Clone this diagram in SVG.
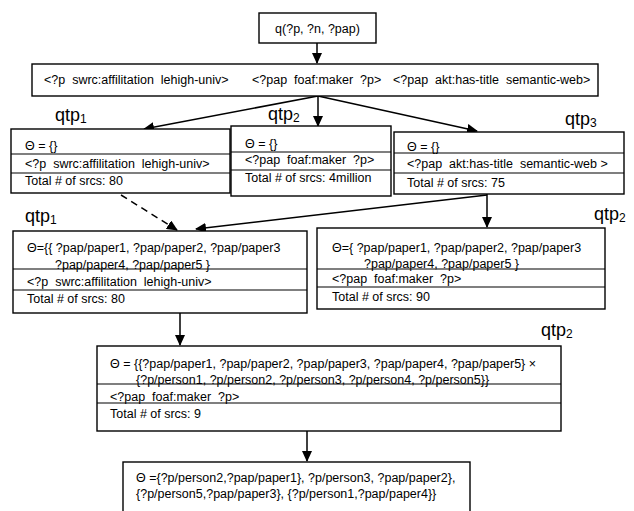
<svg xmlns="http://www.w3.org/2000/svg" width="634" height="511" viewBox="0 0 634 511">
<defs>
<marker id="ah" markerUnits="userSpaceOnUse" markerWidth="11" markerHeight="10" refX="10" refY="5" orient="auto">
<path d="M0,0 L11,5 L0,10 z" fill="#000"/>
</marker>
<style>
.box{fill:#fff;stroke:#000;stroke-width:1.4}
.row{stroke:#000;stroke-width:1.1}
.t{font-family:"Liberation Sans",Arial,sans-serif;font-size:12.5px;fill:#000}
.lbl{font-family:"Liberation Sans",Arial,sans-serif;font-size:18px;fill:#000}
.sub{font-size:12px}
.c{fill:none;stroke:#000;stroke-width:1.5;marker-end:url(#ah)}
.d{stroke-dasharray:7,5}
</style>
</defs>
<rect width="634" height="511" fill="#fff"/>

<g id="connectors">
<line class="c" x1="317" y1="43" x2="317" y2="63"/>
<line class="c" x1="318" y1="96" x2="144" y2="129"/>
<line class="c" x1="318" y1="96" x2="318" y2="126"/>
<line class="c" x1="318" y1="96" x2="477" y2="131"/>
<line class="c d" x1="121" y1="195" x2="177" y2="230"/>
<line class="c" x1="487" y1="195" x2="196" y2="229"/>
<line class="c" x1="487" y1="194" x2="487" y2="227"/>
<line class="c" x1="180" y1="313" x2="180" y2="345"/>
<line class="c" x1="307" y1="431" x2="307" y2="461"/>
</g>

<g id="query">
<rect class="box" x="259" y="13" width="117" height="30"/>
<text class="t" x="317.5" y="33" text-anchor="middle">q(?p, ?n, ?pap)</text>
</g>

<g id="patterns">
<rect class="box" x="32" y="64" width="566" height="32"/>
<text class="t" x="44" y="84" xml:space="preserve">&lt;?p  swrc:affilitation  lehigh-univ&gt;</text>
<text class="t" x="252" y="84" xml:space="preserve">&lt;?pap  foaf:maker  ?p&gt;</text>
<text class="t" x="393" y="84" xml:space="preserve">&lt;?pap  akt:has-title  semantic-web&gt;</text>
</g>

<g id="labels">
<text class="lbl" x="55" y="121">qtp<tspan class="sub" dy="2">1</tspan></text>
<text class="lbl" x="268" y="120">qtp<tspan class="sub" dy="2">2</tspan></text>
<text class="lbl" x="565" y="125">qtp<tspan class="sub" dy="2">3</tspan></text>
<text class="lbl" x="25" y="222">qtp<tspan class="sub" dy="2">1</tspan></text>
<text class="lbl" x="594" y="220">qtp<tspan class="sub" dy="2">2</tspan></text>
<text class="lbl" x="541" y="336">qtp<tspan class="sub" dy="2">2</tspan></text>
</g>

<g id="qtp1-init">
<rect class="box" x="11" y="129" width="219" height="64"/>
<line class="row" x1="11" y1="154" x2="230" y2="154"/>
<line class="row" x1="11" y1="173" x2="230" y2="173"/>
<text class="t" x="25" y="149.5">Θ = {}</text>
<text class="t" x="25" y="167.5" xml:space="preserve">&lt;?p  swrc:affilitation  lehigh-univ&gt;</text>
<text class="t" x="25" y="184.5">Total # of srcs: 80</text>
</g>

<g id="qtp2-init">
<rect class="box" x="231" y="126" width="160" height="70"/>
<line class="row" x1="231" y1="152" x2="391" y2="152"/>
<line class="row" x1="231" y1="170" x2="391" y2="170"/>
<text class="t" x="245" y="147.5">Θ = {}</text>
<text class="t" x="245" y="164" xml:space="preserve">&lt;?pap  foaf:maker  ?p&gt;</text>
<text class="t" x="245" y="181.5">Total # of srcs: 4million</text>
</g>

<g id="qtp3-init">
<rect class="box" x="394" y="132" width="230" height="62"/>
<line class="row" x1="394" y1="153" x2="624" y2="153"/>
<line class="row" x1="394" y1="173" x2="624" y2="173"/>
<text class="t" x="407" y="150.5">Θ = {}</text>
<text class="t" x="407" y="167.5" xml:space="preserve">&lt;?pap  akt:has-title  semantic-web &gt;</text>
<text class="t" x="407" y="186.5">Total # of srcs: 75</text>
</g>

<g id="qtp1-bound">
<rect class="box" x="13" y="231" width="294" height="82"/>
<text class="t" x="27" y="251.5">Θ={{ ?pap/paper1, ?pap/paper2, ?pap/paper3</text>
<text class="t" x="55" y="268.5">?pap/paper4, ?pap/paper5 }</text>
<line class="row" x1="13" y1="269" x2="307" y2="269"/>
<line class="row" x1="13" y1="290" x2="307" y2="290"/>
<text class="t" x="27" y="285.5" xml:space="preserve">&lt;?p  swrc:affilitation  lehigh-univ&gt;</text>
<text class="t" x="27" y="302.5">Total # of srcs: 80</text>
</g>

<g id="qtp2-bound">
<rect class="box" x="317" y="228" width="288" height="81"/>
<text class="t" x="332" y="251.5">Θ={ ?pap/paper1, ?pap/paper2, ?pap/paper3</text>
<text class="t" x="364" y="268">?pap/paper4, ?pap/paper5 }</text>
<line class="row" x1="317" y1="269" x2="605" y2="269"/>
<line class="row" x1="317" y1="287" x2="605" y2="287"/>
<text class="t" x="332" y="282.5" xml:space="preserve">&lt;?pap  foaf:maker  ?p&gt;</text>
<text class="t" x="332" y="300.5">Total # of srcs: 90</text>
</g>

<g id="qtp2-join">
<rect class="box" x="97" y="346" width="464" height="85"/>
<text class="t" x="110" y="367.5">Θ = {{?pap/paper1, ?pap/paper2, ?pap/paper3, ?pap/paper4, ?pap/paper5} ×</text>
<text class="t" x="136" y="383.5">{?p/person1, ?p/person2, ?p/person3, ?p/person4, ?p/person5}}</text>
<line class="row" x1="97" y1="384" x2="561" y2="384"/>
<line class="row" x1="97" y1="403" x2="561" y2="403"/>
<text class="t" x="110" y="400.5" xml:space="preserve">&lt;?pap  foaf:maker  ?p&gt;</text>
<text class="t" x="110" y="417.5">Total # of srcs: 9</text>
</g>

<g id="result">
<rect class="box" x="123" y="462" width="347" height="60"/>
<text class="t" x="136" y="481.5">Θ ={?p/person2,?pap/paper1}, ?p/person3, ?pap/paper2},</text>
<text class="t" x="136" y="497.5">{?p/person5,?pap/paper3}, {?p/person1,?pap/paper4}}</text>
</g>
</svg>
